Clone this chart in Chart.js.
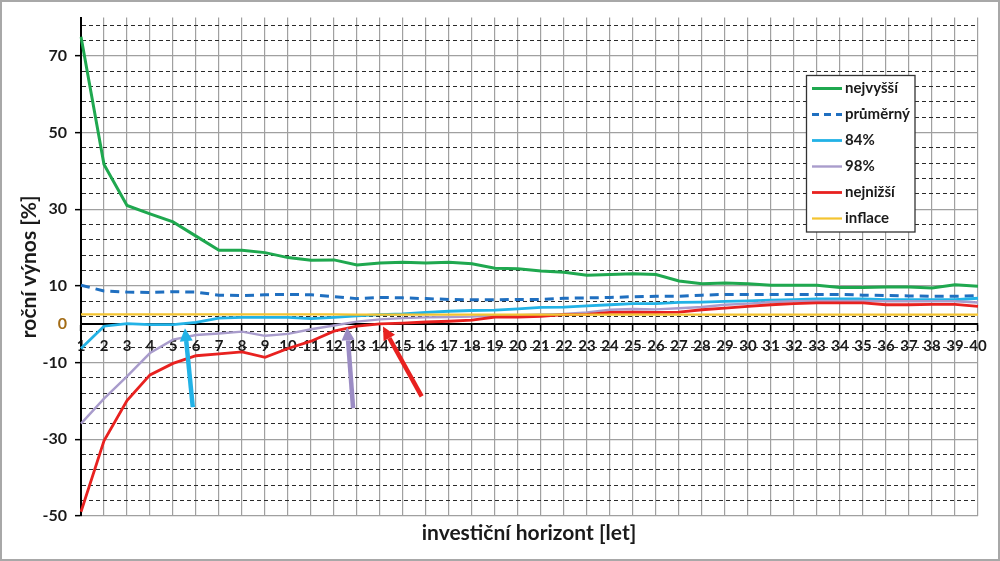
<!DOCTYPE html>
<html>
<head>
<meta charset="utf-8">
<script src="https://cdn.jsdelivr.net/npm/chart.js@4.4.1/dist/chart.umd.min.js"></script>
<style>
html,body{margin:0;padding:0;background:#fff;}
canvas{display:block;}
</style>
</head>
<body>
<canvas id="c" width="1000" height="561" style="width:1000px;height:561px"></canvas>
<script>
// ---- data ----
const horizons = Array.from({length: 40}, (_, i) => String(i + 1));
const seriesNames = ['nejvyšší', 'průměrný', '84%', '98%', 'nejnižší', 'inflace'];
const highest = [75, 41.7, 31.0, 28.8, 26.7, 23.0, 19.3, 19.3, 18.7, 17.4, 16.7, 16.8, 15.5, 16.0, 16.2, 16.0, 16.2, 15.8, 14.6, 14.5, 13.9, 13.6, 12.8, 13.0, 13.2, 13.0, 11.3, 10.6, 10.8, 10.6, 10.2, 10.2, 10.2, 9.6, 9.6, 9.7, 9.7, 9.5, 10.3, 9.9];
const average = [10.2, 8.7, 8.4, 8.3, 8.5, 8.4, 7.6, 7.5, 7.7, 7.8, 7.7, 7.2, 6.7, 7.0, 6.9, 6.7, 6.5, 6.4, 6.4, 6.5, 6.5, 6.8, 6.9, 7.0, 7.2, 7.3, 7.3, 7.6, 7.8, 7.8, 7.8, 7.8, 7.8, 7.8, 7.6, 7.5, 7.4, 7.3, 7.3, 7.5];
const pct84 = [-6.3, -0.5, 0.2, -0.1, -0.1, 0.5, 1.6, 1.8, 1.8, 1.8, 1.5, 1.8, 2.2, 2.5, 2.7, 3.1, 3.4, 3.6, 3.7, 4.0, 4.4, 4.5, 4.8, 5.1, 5.4, 5.4, 5.7, 5.8, 6.0, 6.1, 6.3, 6.4, 6.6, 6.6, 6.6, 6.4, 6.4, 6.4, 6.4, 6.8];
const pct98 = [-25.9, -19.4, -13.6, -7.5, -4.0, -2.8, -2.4, -1.9, -3.0, -2.5, -1.3, -0.3, 0.7, 1.3, 1.6, 1.8, 1.9, 2.0, 2.3, 2.4, 2.6, 2.7, 3.1, 3.8, 4.0, 3.9, 4.2, 4.5, 5.1, 5.4, 5.8, 6.0, 6.1, 6.1, 6.1, 6.0, 6.0, 6.0, 6.0, 5.7];
const lowest = [-48.9, -30.4, -19.9, -13.2, -10.2, -8.2, -7.7, -7.2, -8.6, -6.3, -4.4, -1.8, -0.5, 0.1, 0.3, 0.6, 0.8, 1.1, 1.9, 1.9, 2.1, 2.5, 2.6, 3.1, 3.2, 3.1, 3.2, 3.8, 4.2, 4.7, 5.1, 5.4, 5.6, 5.6, 5.6, 5.1, 5.1, 5.2, 5.2, 4.7];
const inflation = [2.6, 2.6, 2.6, 2.6, 2.6, 2.6, 2.6, 2.6, 2.6, 2.6, 2.6, 2.6, 2.5, 2.5, 2.5, 2.5, 2.5, 2.5, 2.5, 2.5, 2.5, 2.5, 2.5, 2.5, 2.5, 2.5, 2.5, 2.5, 2.5, 2.5, 2.5, 2.5, 2.5, 2.5, 2.5, 2.5, 2.5, 2.5, 2.5, 2.5];
const yLabelTicks = [-50, -30, -10, 0, 10, 30, 50, 70];
const yMin = -50, yMax = 80, yMinorStep = 4;

// ---- styling ----
const FONT = 'Lato, "Open Sans", sans-serif';
const colors = ['#1fa84f', '#1f6fc0', '#22b2e6', '#a99ccc', '#e8211f', '#f4c430'];
const widths = [3, 3, 2.8, 2.4, 2.8, 2.2];

const yGridTicks = [];
for (let v = yMin; v < yMax; v += yMinorStep) yGridTicks.push(v);
if (!yGridTicks.includes(0)) yGridTicks.push(0);
yGridTicks.sort((a, b) => a - b);
const isMajor = v => yLabelTicks.includes(v) && v !== 0;

// annotation arrows (in axis units: x = horizon index from 0, y = %)
const arrows = [
  {x1: 4.86, y1: -21.6, x2: 4.52, y2: -1.0, color: '#22b2e6'},
  {x1: 11.83, y1: -21.9, x2: 11.57, y2: -0.8, color: '#9b8cc4'},
  {x1: 14.81, y1: -18.8, x2: 13.13, y2: -0.6, color: '#e8211f'}
];

const datasetsData = [highest, average, pct84, pct98, lowest, inflation];
const datasets = datasetsData.map((d, i) => ({
  label: seriesNames[i],
  data: d,
  borderColor: colors[i],
  backgroundColor: colors[i],
  borderWidth: widths[i],
  borderDash: i === 1 ? [9, 6] : [],
  pointRadius: 0,
  tension: 0,
  fill: false,
  order: 6 - i
}));

const decorPlugin = {
  id: 'decor',
  beforeDraw(chart) {
    const ctx = chart.ctx;
    ctx.save();
    ctx.fillStyle = '#fff';
    ctx.fillRect(0, 0, chart.width, chart.height);
    ctx.restore();
  },
  afterDraw(chart) {
    const ctx = chart.ctx;
    const xs = chart.scales.x, ys = chart.scales.y;
    ctx.save();
    // arrows
    arrows.forEach(a => {
      const x1 = xs.getPixelForValue(a.x1), y1 = ys.getPixelForValue(a.y1);
      const x2 = xs.getPixelForValue(a.x2), y2 = ys.getPixelForValue(a.y2);
      const ang = Math.atan2(y2 - y1, x2 - x1);
      const hl = 13, hw = 6.5;
      const bx = x2 - hl * Math.cos(ang), by = y2 - hl * Math.sin(ang);
      ctx.strokeStyle = a.color; ctx.fillStyle = a.color;
      ctx.lineWidth = 4.5; ctx.lineCap = 'butt';
      ctx.beginPath(); ctx.moveTo(x1, y1); ctx.lineTo(bx, by); ctx.stroke();
      ctx.beginPath();
      ctx.moveTo(x2, y2);
      ctx.lineTo(bx + hw * Math.sin(ang), by - hw * Math.cos(ang));
      ctx.lineTo(bx - hw * Math.sin(ang), by + hw * Math.cos(ang));
      ctx.closePath(); ctx.fill();
    });
    // legend
    const lx = 806.5, ly = 75.5, lw = 108.5, lh = 156.5;
    ctx.fillStyle = '#fff';
    ctx.fillRect(lx, ly, lw, lh);
    ctx.strokeStyle = '#333'; ctx.lineWidth = 1.3; ctx.setLineDash([]);
    ctx.strokeRect(lx, ly, lw, lh);
    ctx.font = 'bold 15px ' + FONT;
    ctx.textBaseline = 'middle'; ctx.textAlign = 'left';
    chart.data.datasets.forEach((ds, i) => {
      const ry = 88.5 + i * 26;
      ctx.strokeStyle = ds.borderColor;
      ctx.lineWidth = ds.borderWidth;
      ctx.setLineDash(ds.borderDash && ds.borderDash.length ? [7, 5] : []);
      ctx.beginPath(); ctx.moveTo(812, ry); ctx.lineTo(842, ry); ctx.stroke();
      ctx.setLineDash([]);
      ctx.fillStyle = '#1a1a1a';
      ctx.fillText(ds.label, 845, ry);
    });
    // x axis title
    ctx.font = 'bold 21px ' + FONT;
    ctx.textAlign = 'center';
    ctx.fillStyle = '#1a1a1a';
    ctx.fillText('investiční horizont [let]', 529, 533);
    // frame
    ctx.strokeStyle = '#a8a8a8'; ctx.lineWidth = 2;
    ctx.strokeRect(1, 1, chart.width - 2, chart.height - 2);
    ctx.restore();
  }
};

new Chart(document.getElementById('c'), {
  type: 'line',
  data: {labels: horizons, datasets},
  plugins: [decorPlugin],
  options: {
    responsive: false,
    animation: false,
    devicePixelRatio: 1,
    layout: {padding: {left: 0, right: 22, top: 16, bottom: 45}},
    plugins: {legend: {display: false}, tooltip: {enabled: false}, title: {display: false}},
    scales: {
      x: {
        type: 'category',
        position: {y: 0},
        offset: false,
        afterFit: s => { s.height = 0; },
        ticks: {autoSkip: false, maxRotation: 0, minRotation: 0, padding: 7,
          font: {family: FONT, weight: 'bold', size: 15}, color: '#1a1a1a'},
        grid: {color: '#a0a0a0', lineWidth: 1.2, tickColor: '#000', tickLength: 6, tickWidth: 1.5, drawOnChartArea: true},
        border: {color: '#000', width: 2}
      },
      y: {
        type: 'linear',
        position: 'left',
        min: yMin, max: yMax,
        afterBuildTicks: s => { s.ticks = yGridTicks.map(v => ({value: v})); },
        afterFit: s => { s.width = 81; },
        ticks: {autoSkip: false, padding: 8,
          callback: v => yLabelTicks.includes(v) ? String(v) : '',
          font: {family: FONT, weight: 'bold', size: 16},
          color: c => (c.tick && c.tick.value === 0) ? '#a36c16' : '#1a1a1a'},
        grid: {
          color: c => {
            const v = c.tick ? c.tick.value : null;
            if (v === 0) return '#000';
            return isMajor(v) ? '#a0a0a0' : '#2a2a2a';
          },
          lineWidth: c => {
            const v = c.tick ? c.tick.value : null;
            return isMajor(v) ? 1.3 : 1;
          },
          tickColor: c => (c.tick && isMajor(c.tick.value)) ? '#000' : 'rgba(0,0,0,0)',
          tickLength: 6, tickWidth: 1.5
        },
        border: {color: '#000', width: 2,
          dash: c => (c.tick && !isMajor(c.tick.value) && c.tick.value !== 0) ? [4, 3] : []},
        title: {display: true, text: 'roční výnos [%]', color: '#1a1a1a',
          font: {family: FONT, weight: 'bold', size: 21}, padding: {top: 17, bottom: 0}}
      }
    }
  }
});
</script>
</body>
</html>
